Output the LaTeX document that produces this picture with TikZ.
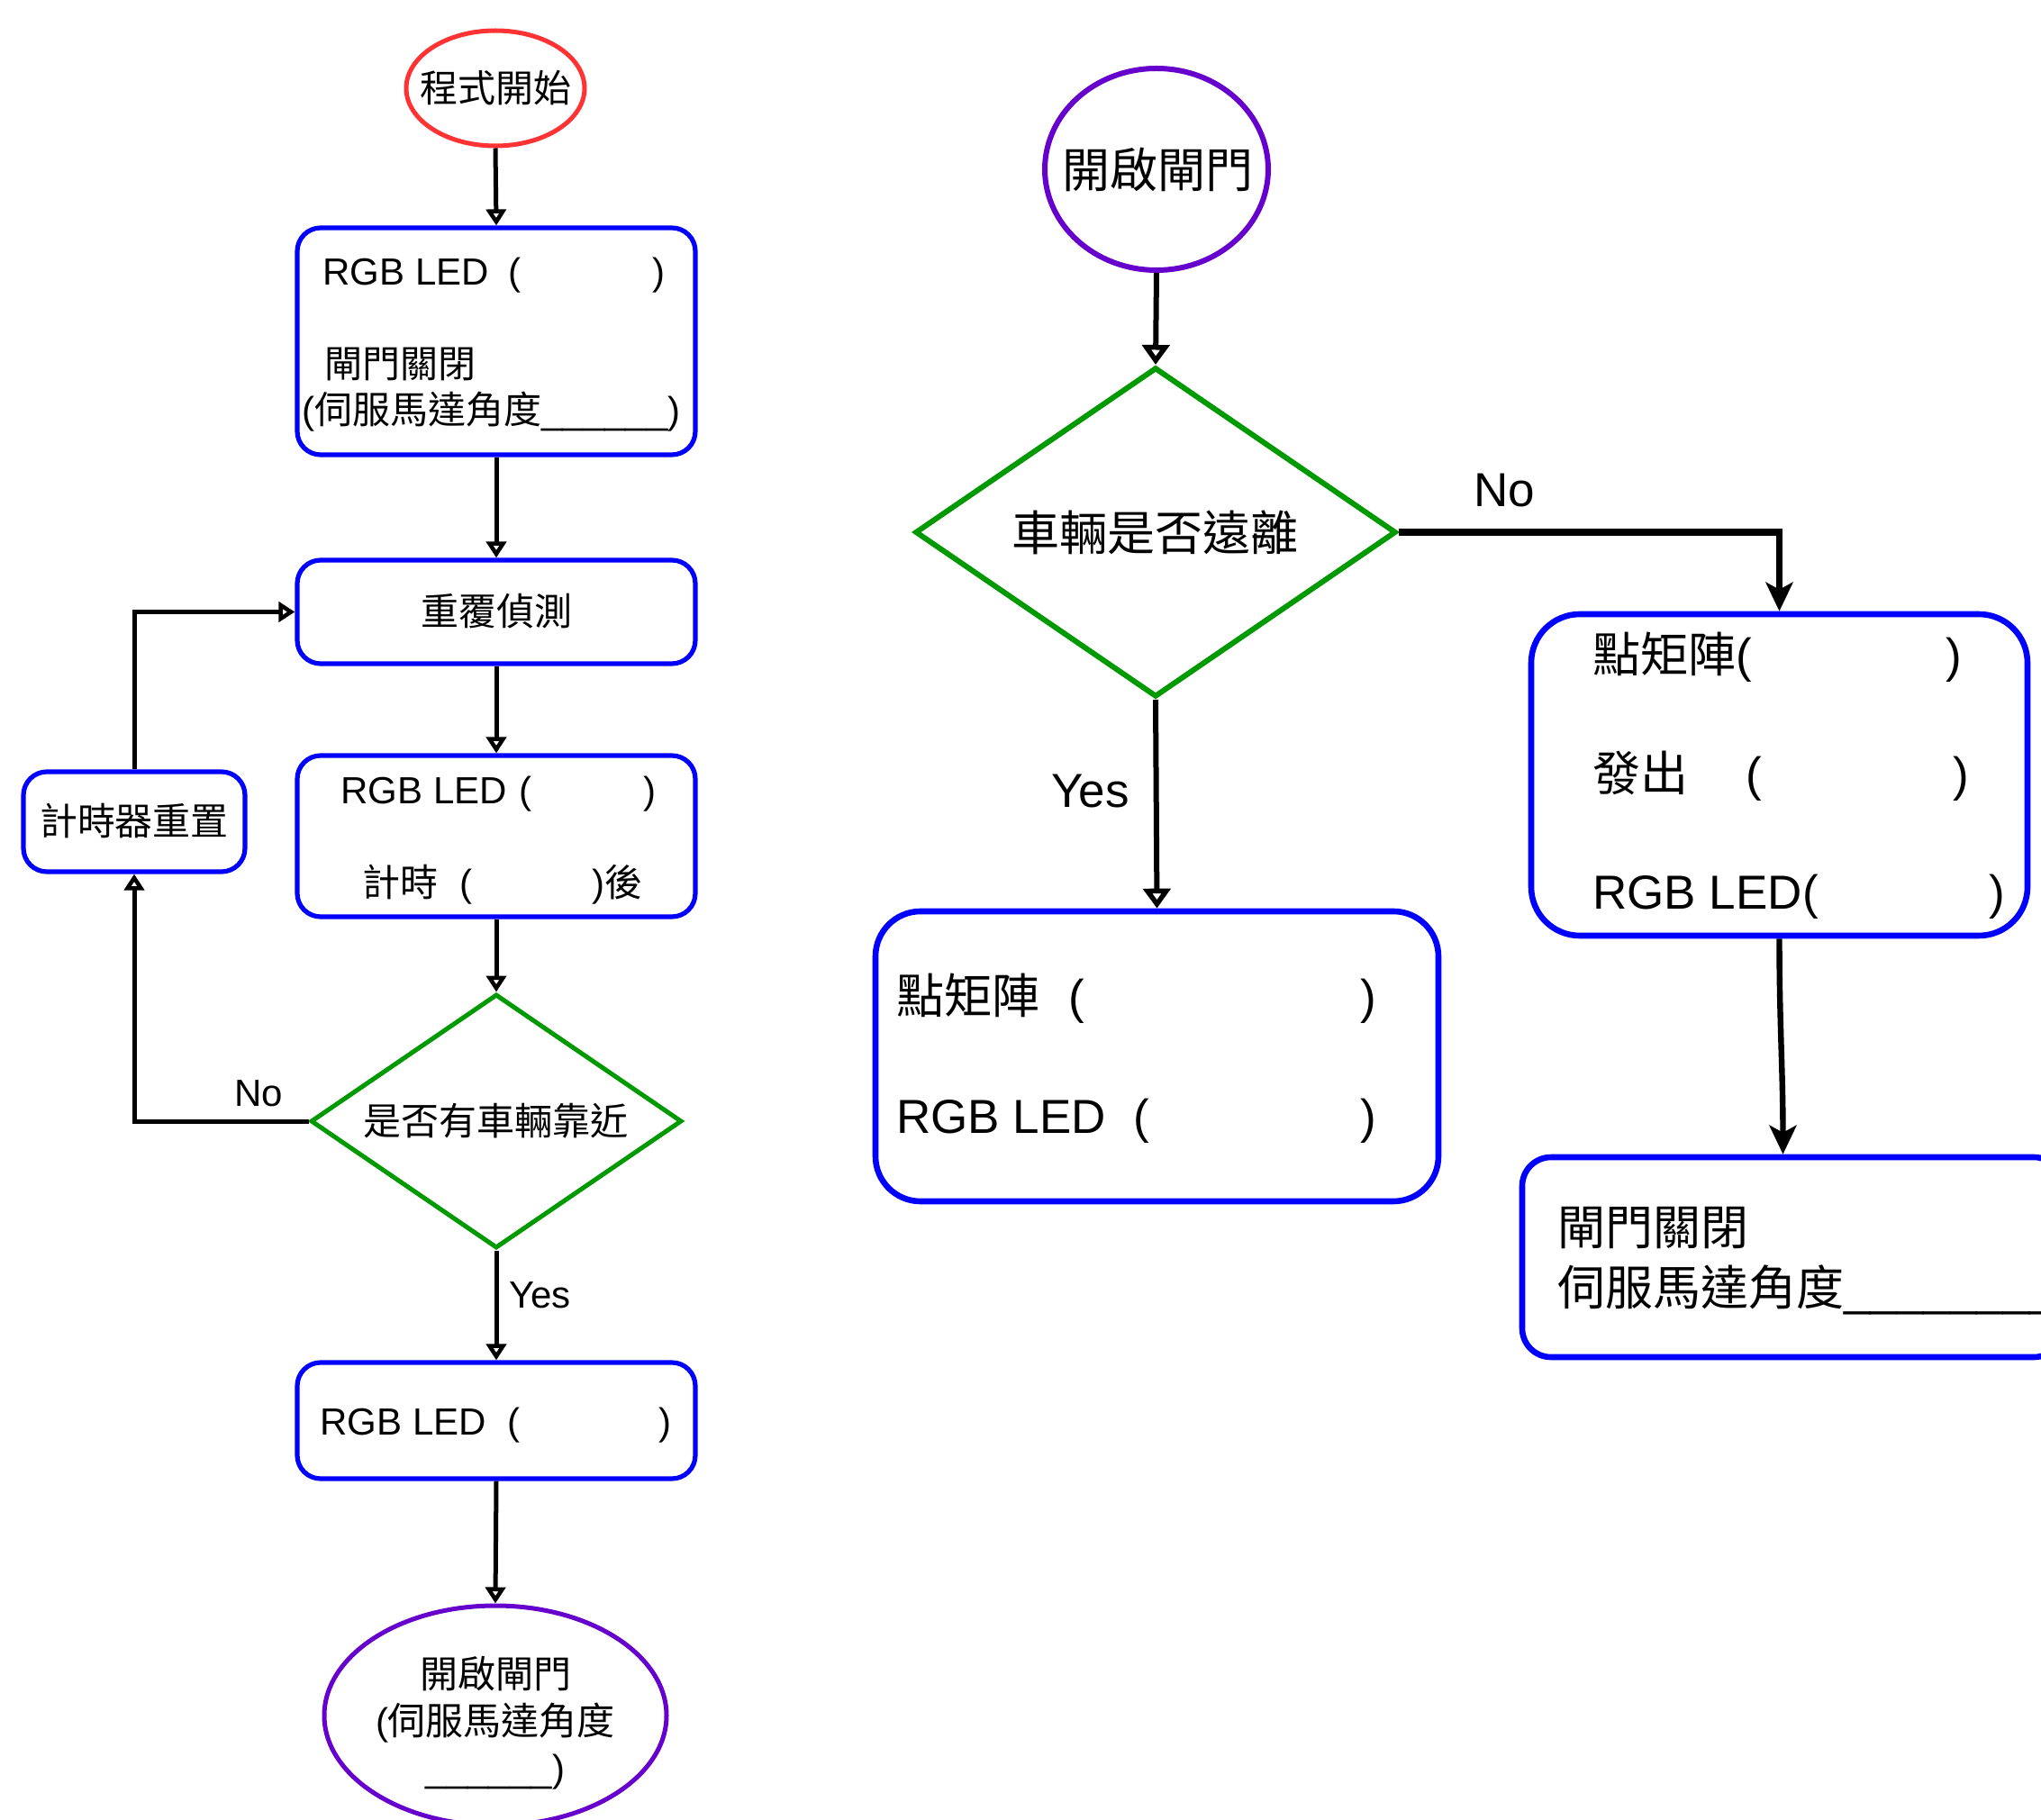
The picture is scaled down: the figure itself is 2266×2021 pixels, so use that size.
\documentclass[tikz,border=0pt]{standalone}
\usepackage{fontspec}
\setmainfont{Liberation Sans}
\newfontfamily\cjk{Noto Sans CJK TC}
\usetikzlibrary{shapes.geometric,arrows.meta}
\newcommand\Lfs{\fontsize{21pt}{26pt}\selectfont}
\newcommand\Rfs{\fontsize{26.5pt}{32pt}\selectfont}
\definecolor{bblue}{RGB}{0,0,255}
\definecolor{dgreen}{RGB}{0,153,0}
\definecolor{sred}{RGB}{255,51,51}
\definecolor{vpurple}{RGB}{102,0,204}
\begin{document}
\begin{tikzpicture}[x=0.5pt,y=-0.5pt,
  lbox/.style={draw=bblue,line width=2.6pt,rounded corners=13pt,inner sep=0pt},
  rbox/.style={draw=bblue,line width=3.3pt,rounded corners=25pt,inner sep=0pt},
  dia/.style={diamond,draw=dgreen,inner sep=0pt},
  ell/.style={ellipse,inner sep=0pt},
  txt/.style={inner sep=0pt,anchor=base west},
  ltxt/.style={txt,font=\Lfs},
  rtxt/.style={txt,font=\Rfs},
  lctr/.style={inner sep=0pt,font=\Lfs\cjk},
  rctr/.style={inner sep=0pt,font=\Rfs\cjk},
  flow/.style={line width=2.5pt,-{Triangle[open,length=9pt,width=11pt]}},
  flowR/.style={line width=3pt,-{Triangle[open,length=11pt,width=15pt]}},
  flowS/.style={line width=3.2pt,-{Stealth[length=16pt,width=15pt,inset=4pt]}},
  flowN/.style={line width=3.6pt,-{Stealth[length=16pt,width=15pt,inset=4pt]}}
]
\useasboundingbox (0,0) rectangle (2266,2021);

% ---------- left column ----------
\node[ell,draw=sred,line width=2.5pt,minimum width=99pt,minimum height=64pt] (start) at (550,98) {};
\node[lctr] (startT) at (550,98) {程式開始};

\node[lbox,minimum width=221pt,minimum height=126pt] (b1) at (551,379) {};
\node[ltxt] (b1a) at (358,317) {\makebox[190pt]{RGB LED\hspace{11pt}(\hfill)}};
\node[ltxt] (b1b) at (360,420) {\cjk 閘門關閉};
\node[ltxt] (b1c) at (335,471) {({\cjk 伺服馬達角度}\_\_\_\_\_\_)};

\node[lbox,minimum width=221pt,minimum height=57.5pt] (b2) at (551,679.5) {};
\node[lctr] (b2T) at (551,679) {重覆偵測};

\node[lbox,minimum width=221pt,minimum height=89.5pt] (b3) at (551,928.5) {};
\node[ltxt] (b3a) at (378,893) {\makebox[175pt]{RGB LED\hspace{7pt}(\hfill)}};
\node[ltxt] (b3b) at (402,995) {\makebox[155.5pt]{{\cjk 計時}\hspace{12pt}(\hfill){\cjk 後}}};

\node[lbox,minimum width=123pt,minimum height=55.5pt] (t) at (149,912.5) {};
\node[lctr] (tT) at (149,911) {計時器重置};

\node[dia,line width=2.5pt,minimum width=206pt,minimum height=141pt] (d1) at (551,1245) {};
\node[lctr] (d1T) at (550,1245) {是否有車輛靠近};

\node[lbox,minimum width=221pt,minimum height=64.5pt] (b4) at (551,1577.5) {};
\node[ltxt] (b4a) at (355,1593) {\makebox[195pt]{RGB LED\hspace{12pt}(\hfill)}};

\node[ell,draw=vpurple,line width=2.5pt,minimum width=190pt,minimum height=122pt] (e2) at (550,1905) {};
\node[inner sep=0pt,font=\Lfs,align=center] (e2T) at (550,1913) {{\cjk 開啟閘門}\\({\cjk 伺服馬達角度}\\\_\_\_\_\_\_)};

\node[ltxt] (noL) at (260,1228) {No};
\node[ltxt] (yesL) at (565,1452) {Yes};

\draw[flow] (start.south) -- (b1.north);
\draw[flow] (b1) -- (b2);
\draw[flow] (b2) -- (b3);
\draw[flow] (b3.south) -- (d1.north);
\draw[flow] (d1.south) -- (b4.north);
\draw[flow] (b4.south) -- (e2.north);
\draw[flow] (d1.west) -| (t.south);
\draw[flow] (t.north) |- (b2.west);

% ---------- right part ----------
\node[ell,draw=vpurple,line width=3pt,minimum width=124pt,minimum height=112pt] (e1) at (1284,188) {};
\node[rctr] (e1T) at (1285,188) {開啟閘門};

\node[dia,line width=3pt,minimum width=267pt,minimum height=183pt] (d2) at (1283,591) {};
\node[rctr] (d2T) at (1282,591) {車輛是否遠離};

\node[rbox,rounded corners=27pt,minimum width=275.5pt,minimum height=178.5pt] (bA) at (1975.5,860.5) {};
\node[rtxt] (bAa) at (1768,747) {\makebox[205pt]{{\cjk 點矩陣}(\hfill)}};
\node[rtxt] (bAb) at (1768,879) {\makebox[209pt]{{\cjk 發出}\hspace{32pt}(\hfill)}};
\node[rtxt] (bAc) at (1768,1009) {\makebox[229pt]{RGB LED(\hfill)}};

\node[rbox,minimum width=312.5pt,minimum height=161pt] (bB) at (1284.5,1173) {};
\node[rtxt] (bBa) at (995,1125) {\makebox[266.5pt]{{\cjk 點矩陣}\hspace{16pt}(\hfill)}};
\node[rtxt] (bBb) at (995,1258) {\makebox[266.5pt]{RGB LED\hspace{15pt}(\hfill)}};

\node[rbox,rounded corners=16pt,minimum width=300pt,minimum height=111pt] (bC) at (1990,1396) {};
\node[rtxt] (bCa) at (1729,1382) {\cjk 閘門關閉};
\node[rtxt] (bCb) at (1729,1449) {{\cjk 伺服馬達角度}\_\_\_\_\_\_\_\_\_};

\node[rtxt] (noR) at (1636,563) {No};
\node[rtxt] (yesR) at (1167,897) {Yes};

\draw[flowR] (e1.south) -- (d2.north);
\draw[flowN] (d2.east) -| (bA.north);
\draw[flowR] (d2.south) -- (bB.north);
\draw[flowS] (bA.south) to[out=-90,in=90] ([xshift=2pt]bA.south |- bC.north);
\end{tikzpicture}
\end{document}
